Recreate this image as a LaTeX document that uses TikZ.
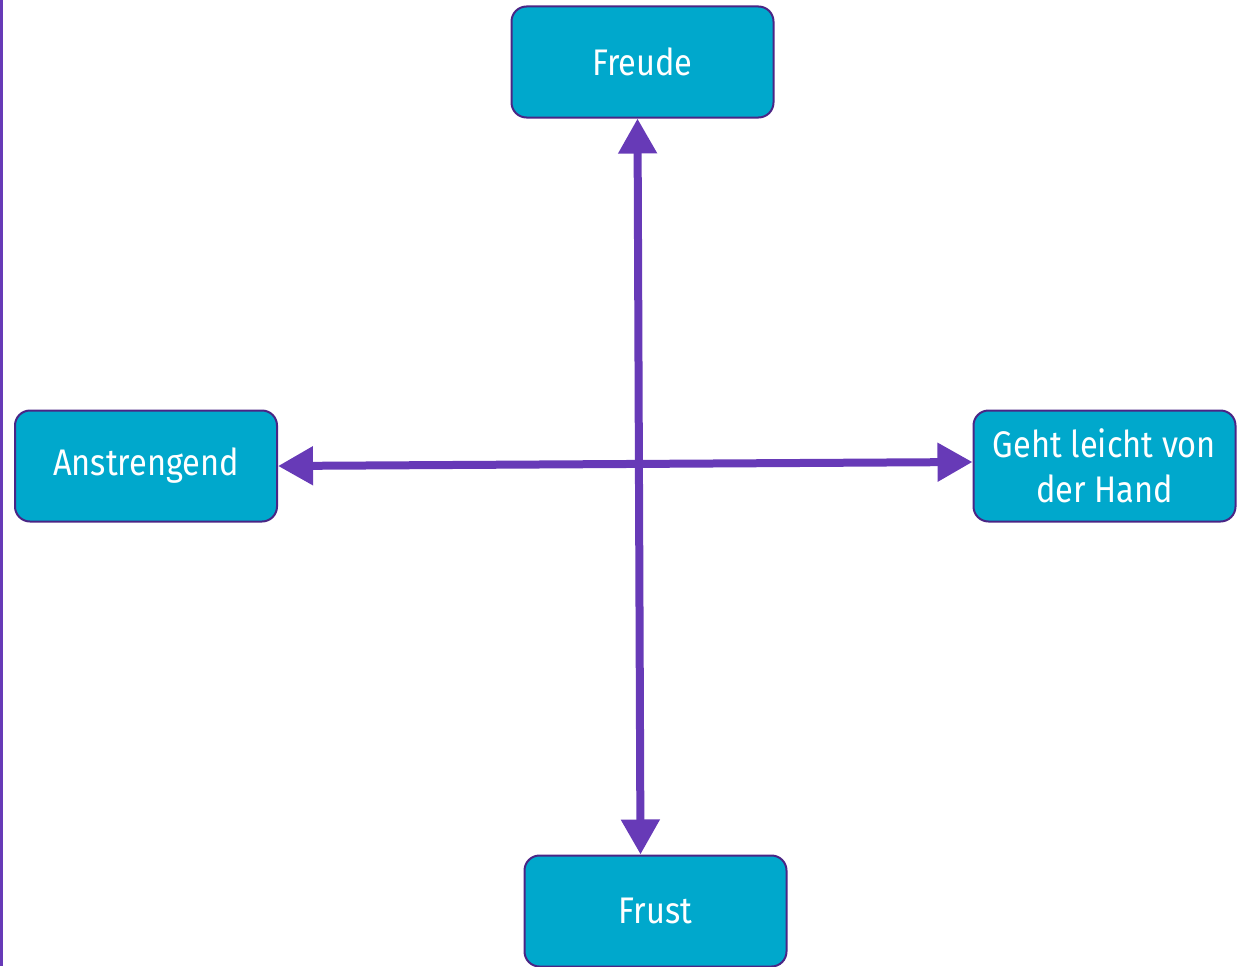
\documentclass[tikz,border=0pt]{standalone}
\usepackage{fontspec}
\setmainfont{Fira Sans}[FakeStretch=0.88]
\usepackage{tikz}
\usetikzlibrary{arrows.meta}
\usetikzlibrary{positioning}
\definecolor{boxfill}{HTML}{00A8CC}
\definecolor{boxline}{HTML}{4A2585}
\definecolor{axis}{HTML}{673AB7}
\tikzset{basic box/.style={draw=boxline,
                           fill=boxfill,
                           line width=2pt,
                           rounded corners=15pt}}
\tikzset{pole/.style={basic box,
                      minimum width=262pt,
                      minimum height=111pt,
                      text=white,
                      align=center,
                      font=\fontsize{37}{45}\selectfont}}
\tikzset{axis arrow/.style={draw=axis,
                            line width=8pt,
                            {Triangle[length=35pt,width=37pt]}-{Triangle[length=35pt,width=37pt]}}}

\begin{document}
\begin{tikzpicture}
      [
      x=1pt,y=-1pt,
      ]

      \useasboundingbox (0,0) rectangle (1241,966);

      % side line
      \draw [axis,line width=3pt] (1.5,0) -- (1.5,966);

      % poles
      \node [pole] (freude) at (642.5,62) {Freude};
      \node [pole] (anstrengend) at (146,466) {Anstrengend};
      \node [pole] (hand) at (1104.5,466) {Geht leicht von\\der Hand};
      \node [pole] (frust) at (655.5,911) {Frust};

      % axes
      \path [axis arrow] ([xshift=-5pt]freude.south) -- ([xshift=-15pt]frust.north);
      \path [axis arrow] (anstrengend.east) -- ([yshift=4pt]hand.west);

    \end{tikzpicture}
\end{document}
